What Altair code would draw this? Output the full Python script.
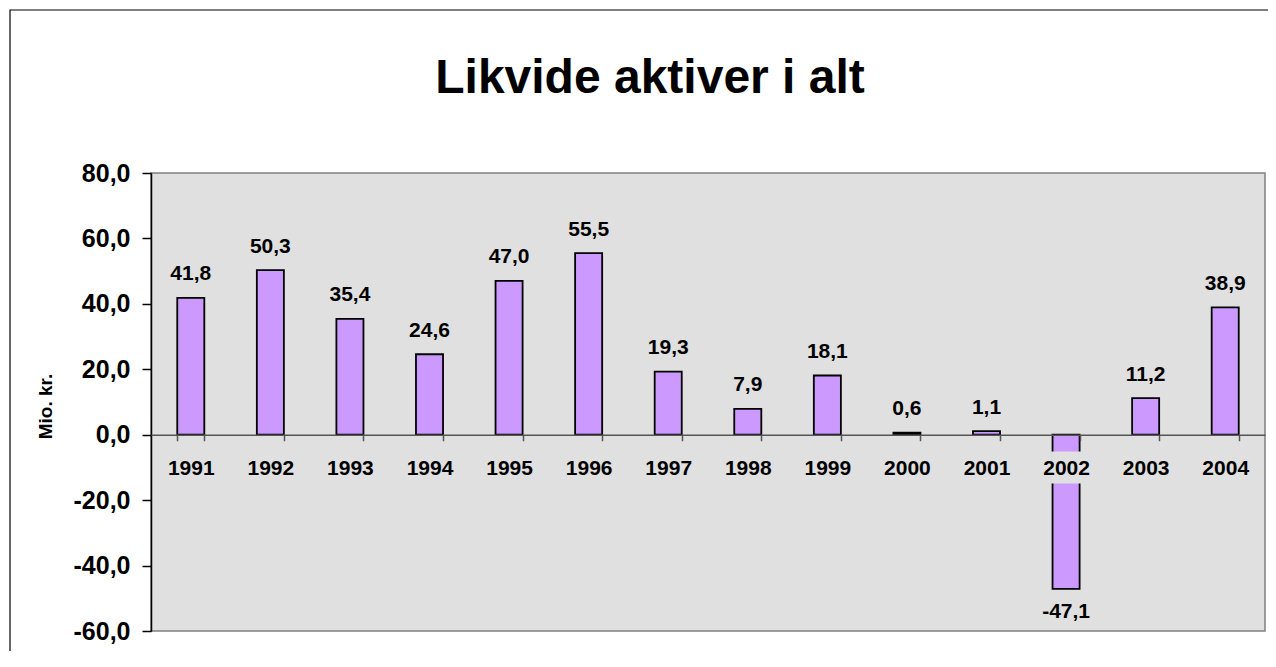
import altair as alt
import pandas as pd

years = ["1991", "1992", "1993", "1994", "1995", "1996", "1997",
         "1998", "1999", "2000", "2001", "2002", "2003", "2004"]
values = [41.8, 50.3, 35.4, 24.6, 47.0, 55.5, 19.3, 7.9, 18.1, 0.6, 1.1, -47.1, 11.2, 38.9]
y_ticks = [-60, -40, -20, 0, 20, 40, 60, 80]

df = pd.DataFrame({"year": years, "value": values})
df["label"] = [f"{v:.1f}".replace(".", ",") for v in values]

W, H = 1114, 458
FONT = "Liberation Sans"

x_enc = alt.X("year:N", sort=years,
              scale=alt.Scale(paddingInner=0.66, paddingOuter=0.33),
              axis=alt.Axis(title=None, orient="bottom", offset=-(H * 60 / 140),
                            labelAngle=0, labelFont=FONT, labelFontSize=21,
                            labelFontWeight="bold", labelColor="black",
                            labelBaseline="alphabetic", labelPadding=34,
                            domainColor="#555555", domainWidth=1.5,
                            tickColor="#555555", tickSize=6, tickWidth=1.5,
                            tickBand="extent", zindex=1))
y_enc = alt.Y("value:Q",
              scale=alt.Scale(domain=[-60, 80], nice=False, zero=False),
              axis=alt.Axis(title="Mio. kr.", values=y_ticks,
                            labelExpr="(datum.value < 0 ? '-' : '') + replace(format(abs(datum.value), '.1f'), '.', ',')",
                            labelFont=FONT, labelFontSize=25, labelFontWeight="bold",
                            labelColor="black", labelPadding=12,
                            domainColor="black", domainWidth=1.5,
                            tickColor="black", tickSize=9, tickWidth=1.5,
                            grid=False,
                            titleFont=FONT, titleFontSize=19, titleFontWeight="bold",
                            titleColor="black", titleAngle=270, titleAlign="center",
                            titleBaseline="middle", titleX=-106, titleY=233))

base = alt.Chart(df)

bars = base.mark_bar(color="#CC99FF", stroke="black", strokeWidth=1.8).encode(
    x=x_enc, y=y_enc, y2=alt.datum(0))

label_bg = base.transform_filter("datum.value < 0").mark_rect(
    fill="#E0E0E0", stroke="#E0E0E0", strokeWidth=3).encode(
    x=alt.X("year:N", sort=years), y=alt.value(280), y2=alt.value(309))

pos_labels = base.transform_filter("datum.value >= 0").mark_text(
    font=FONT, fontSize=21, fontWeight="bold", color="black",
    baseline="alphabetic", dy=-17.5).encode(
    x=alt.X("year:N", sort=years), y="value:Q", text="label:N")

neg_labels = base.transform_filter("datum.value < 0").mark_text(
    font=FONT, fontSize=21, fontWeight="bold", color="black",
    baseline="alphabetic", dy=29).encode(
    x=alt.X("year:N", sort=years), y="value:Q", text="label:N")

frame = alt.Chart(pd.DataFrame({"a": [0]})).mark_rect(
    fill=None, stroke="black", strokeWidth=1.2).encode(
    x=alt.value(-141), x2=alt.value(1200), y=alt.value(-163), y2=alt.value(600))

chart = alt.layer(frame, bars, label_bg, pos_labels, neg_labels).properties(
    width=W, height=H,
    background="white",
    title=alt.TitleParams("Likvide aktiver i alt", font=FONT, fontSize=48,
                          fontWeight="bold", color="black", anchor="middle",
                          baseline="alphabetic", offset=-132, dx=-58),
    autosize=alt.AutoSizeParams(type="none"),
    padding={"left": 143, "top": 165, "right": 3, "bottom": 20},
).configure_view(
    fill="#E0E0E0", stroke="#808080", strokeWidth=1.5
)

chart.save("out.html", embed_options={"renderer": "svg", "actions": False})
